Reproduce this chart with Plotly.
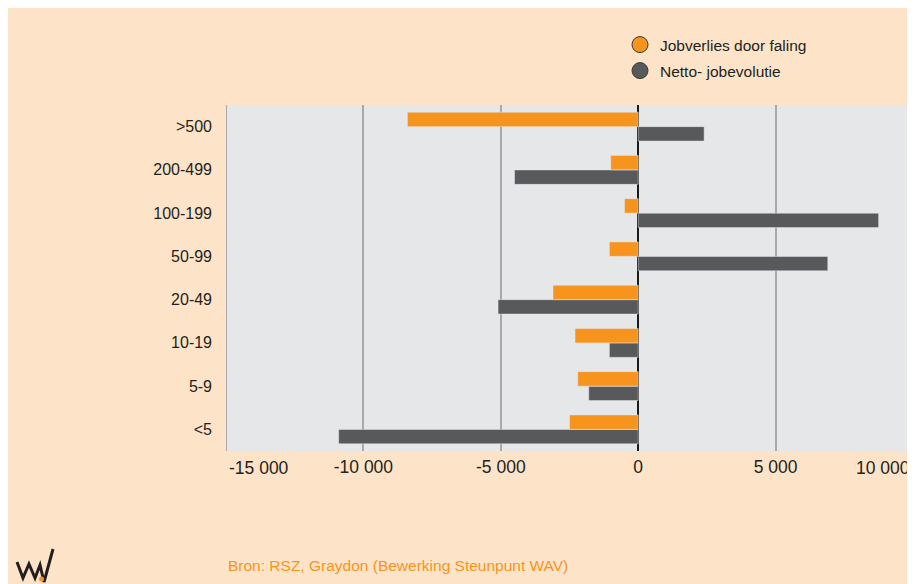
import plotly.graph_objects as go

categories = ["<5", "5-9", "10-19", "20-49", "50-99", "100-199", "200-499", ">500"]
jobverlies = [-2500, -2200, -2300, -3100, -1050, -500, -1000, -8400]
netto = [-10900, -1800, -1050, -5100, 6900, 8750, -4500, 2400]

x_tickvals = [-10000, -5000, 0, 5000]
x_ticktext = ["-10 000", "-5 000", "0", "5 000"]
edge_vals = [-15000, 10000]
edge_text = ["-15 000", "10 000"]

ORANGE = "#F7941D"
GREY = "#58595B"
PEACH = "#FDE4C8"
PLOTBG = "#E6E7E8"
TXT = "#231F20"
FONT = "Liberation Sans, Arial, sans-serif"

OX, OY = 8, 8  # page offset of the figure (body margin)
W, H = 915 - OX, 584 - OY
L, R, T, B = 218, 2, 97, 133
PW, PH = W - L - R, H - T - B


def px(x):  # page x -> paper
    return (x - OX - L) / PW


def py(y):  # page y -> paper
    return (H - B - (y - OY)) / PH


fig = go.Figure()
fig.add_trace(go.Bar(y=categories, x=netto, orientation="h", marker_color=GREY,
                     name="Netto- jobevolutie", showlegend=False))
fig.add_trace(go.Bar(y=categories, x=jobverlies, orientation="h", marker_color=ORANGE,
                     name="Jobverlies door faling", showlegend=False))

fig.add_trace(go.Scatter(x=[None], y=[None], mode="markers", name="Jobverlies door faling",
                         marker=dict(size=16, color=ORANGE, line=dict(color="#3a3a3a", width=1)),
                         legend="legend"))
fig.add_trace(go.Scatter(x=[None], y=[None], mode="markers", name="Netto- jobevolutie",
                         marker=dict(size=16, color=GREY, line=dict(color="#3a3a3a", width=1)),
                         legend="legend2"))

annotations = []
for v, t, anc in zip(edge_vals, edge_text, ["left", "right"]):
    annotations.append(dict(x=v, y=0, xref="x", yref="paper", text=t, showarrow=False,
                            xanchor=anc, yanchor="top", yshift=-5, xshift=1 if anc == "left" else -1,
                            font=dict(family=FONT, size=17.5, color=TXT)))
annotations.append(dict(x=px(226), y=py(565), xref="paper", yref="paper",
                        text="Bron: RSZ, Graydon (Bewerking Steunpunt WAV)", showarrow=False,
                        xanchor="left", yanchor="middle",
                        font=dict(family=FONT, size=15.5, color=ORANGE)))

logo_pts = [(17, 562), (23, 578), (29, 564), (35, 578), (40, 565), (44, 582), (53, 549)]
path = "M " + " L ".join(f"{px(a):.4f},{py(b):.4f}" for a, b in logo_pts)
shapes = [
    dict(type="path", xref="paper", yref="paper", path=path,
         line=dict(color="#231F20", width=3)),
    dict(type="circle", xref="paper", yref="paper",
         x0=px(39), x1=px(44), y0=py(581.5), y1=py(576.5),
         fillcolor=ORANGE, line=dict(width=0)),
    dict(type="line", xref="x", yref="paper", x0=-15000, x1=-15000, y0=0, y1=1,
         line=dict(color="#A7A9AC", width=2)),
    dict(type="line", xref="x", yref="paper", x0=10000, x1=10000, y0=0, y1=1,
         line=dict(color="#A7A9AC", width=2)),
]

legend_common = dict(bgcolor="rgba(0,0,0,0)", font=dict(family=FONT, size=15.5, color=TXT),
                     xanchor="left", yanchor="middle", itemclick=False, itemdoubleclick=False)

fig.update_layout(
    width=W, height=H,
    margin=dict(l=L, r=R, t=T, b=B, autoexpand=False),
    paper_bgcolor=PEACH, plot_bgcolor=PLOTBG,
    barmode="group", bargap=0.33, bargroupgap=0,
    font=dict(family=FONT, color=TXT),
    legend=dict(x=px(620), y=py(45), **legend_common),
    legend2=dict(x=px(620), y=py(71), **legend_common),
    xaxis=dict(range=[-15000, 10000], tickvals=x_tickvals, ticktext=x_ticktext,
               showgrid=True, gridcolor="#A7A9AC", gridwidth=2,
               zeroline=True, zerolinecolor="#1a1a1a", zerolinewidth=2,
               tickfont=dict(family=FONT, size=17.5, color=TXT), ticks="", ticklabelstandoff=3,
               fixedrange=True),
    yaxis=dict(categoryorder="array", categoryarray=categories, showgrid=False,
               tickfont=dict(family=FONT, size=16, color=TXT), ticks="", ticklabelstandoff=13,
               fixedrange=True),
    annotations=annotations, shapes=shapes,
)

fig.write_html("out.html")
